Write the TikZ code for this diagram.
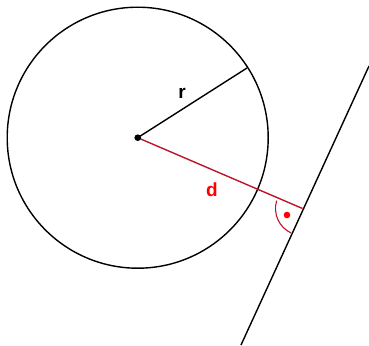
\documentclass[tikz,border=0pt]{standalone}
\usepackage{fontspec}
\setmainfont{Liberation Sans}
\begin{document}
\begin{tikzpicture}[x=1pt,y=-1pt,
  lbl/.style={font=\bfseries\fontsize{19}{19}\selectfont, inner sep=0pt},
  blk/.style={line width=1.4pt, black},
  rd/.style={line width=1.4pt, color={rgb,255:red,190;green,20;blue,40}}]
\useasboundingbox (0,0) rectangle (369,345);
\coordinate (M) at (137.7,137.7);
\coordinate (R) at (247,68);
\coordinate (F) at (302.5,208.5);
\coordinate (T1) at (369,66);
\coordinate (T2) at (241,345);
\draw[blk] (M) circle (130.5);
\draw[blk] (M) -- (R);
\draw[blk] (T1) -- (T2);
\draw[rd] (M) -- (F);
\draw[rd, line width=1.1pt] (F) ++(197:27) arc (197:115:27);
\fill[red] (287,215) circle (3.3);
\fill[black] (M) circle (3.3);
\node[lbl] (r) at (182,93) {r};
\node[lbl, text=red] (d) at (212,190) {d};
\end{tikzpicture}
\end{document}
